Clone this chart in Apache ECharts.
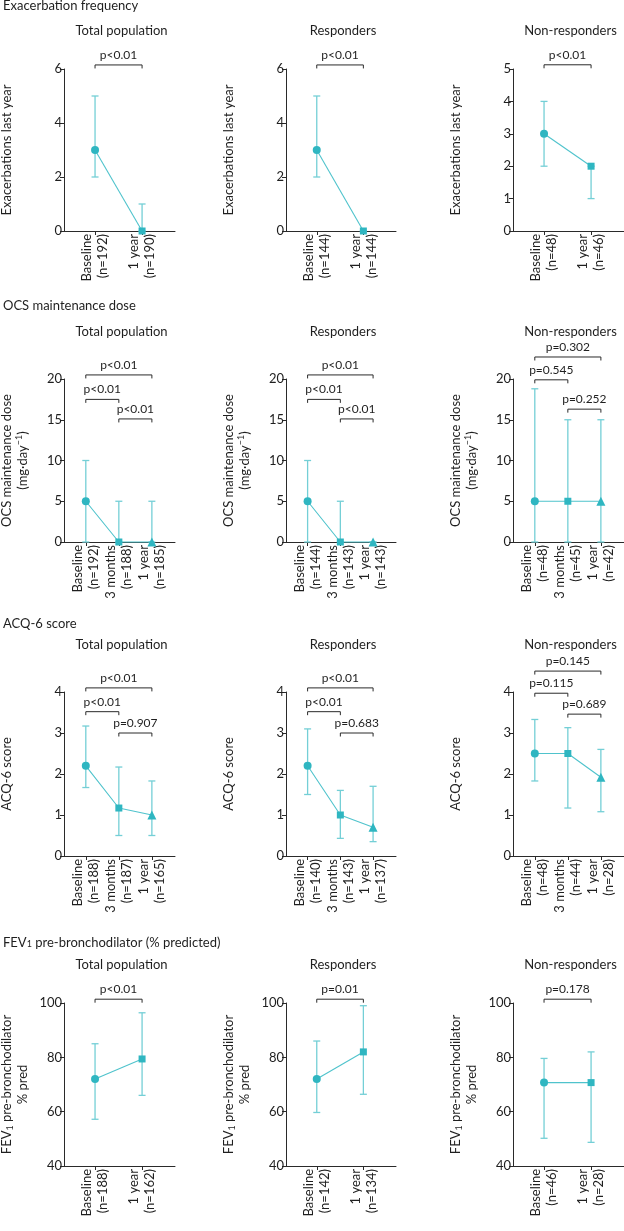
<!DOCTYPE html>
<html><head><meta charset="utf-8">
<script src="https://cdn.jsdelivr.net/npm/echarts@6/dist/echarts.min.js"></script>
<style>html,body{margin:0;padding:0;background:#fff}#c{width:624px;height:1231px}</style>
</head><body><div id="c"></div>
<script>
// ---------- titles ----------
const sectionTitles = ['Exacerbation frequency', 'OCS maintenance dose', 'ACQ-6 score', 'FEV{sub|1} pre-bronchodilator (% predicted)'];
const groupTitles = ['Total population', 'Responders', 'Non-responders'];
const yNames = ['Exacerbations last year', 'OCS maintenance dose\n(mg·day{sup|−1})', 'ACQ-6 score', 'FEV{sub|1} pre-bronchodilator\n% pred'];

// ---------- y ticks ----------
const exacTicks = [0, 2, 4, 6];
const exacTicksNR = [0, 1, 2, 3, 4, 5];
const ocsTicks = [0, 5, 10, 15, 20];
const acqTicks = [0, 1, 2, 3, 4];
const fevTicks = [40, 60, 80, 100];

// ---------- Exacerbations ----------
const exacTotalLabels = ['Baseline\n(n=192)', '1 year\n(n=190)'];
const exacTotalMedian = [3, 0];
const exacTotalLow = [2, 0];
const exacTotalHigh = [5, 1];
const exacTotalP = [[1, 2, 6.15, 'p<0.01']];

const exacRespLabels = ['Baseline\n(n=144)', '1 year\n(n=144)'];
const exacRespMedian = [3, 0];
const exacRespLow = [2, 0];
const exacRespHigh = [5, 0];
const exacRespP = [[1, 2, 6.15, 'p<0.01']];

const exacNonLabels = ['Baseline\n(n=48)', '1 year\n(n=46)'];
const exacNonMedian = [3, 2];
const exacNonLow = [2, 1];
const exacNonHigh = [4, 2];
const exacNonP = [[1, 2, 5.13, 'p<0.01']];

// ---------- OCS ----------
const ocsTotalLabels = ['Baseline\n(n=192)', '3 months\n(n=188)', '1 year\n(n=185)'];
const ocsTotalMedian = [5, 0, 0];
const ocsTotalLow = [0, 0, 0];
const ocsTotalHigh = [10, 5, 5];
const ocsTotalP = [[1, 3, 20.5, 'p<0.01'], [1, 2, 17.5, 'p<0.01'], [2, 3, 15.1, 'p<0.01']];

const ocsRespLabels = ['Baseline\n(n=144)', '3 months\n(n=143)', '1 year\n(n=143)'];
const ocsRespMedian = [5, 0, 0];
const ocsRespLow = [0, 0, 0];
const ocsRespHigh = [10, 5, 0];
const ocsRespP = [[1, 3, 20.5, 'p<0.01'], [1, 2, 17.5, 'p<0.01'], [2, 3, 15.1, 'p<0.01']];

const ocsNonLabels = ['Baseline\n(n=48)', '3 months\n(n=45)', '1 year\n(n=42)'];
const ocsNonMedian = [5, 5, 5];
const ocsNonLow = [0, 0, 0];
const ocsNonHigh = [18.8, 15, 15];
const ocsNonP = [[1, 3, 22.7, 'p=0.302'], [1, 2, 19.9, 'p=0.545'], [2, 3, 16.3, 'p=0.252']];

// ---------- ACQ-6 ----------
const acqTotalLabels = ['Baseline\n(n=188)', '3 months\n(n=187)', '1 year\n(n=165)'];
const acqTotalMedian = [2.2, 1.17, 1.0];
const acqTotalLow = [1.67, 0.5, 0.5];
const acqTotalHigh = [3.17, 2.17, 1.83];
const acqTotalP = [[1, 3, 4.1, 'p<0.01'], [1, 2, 3.52, 'p<0.01'], [2, 3, 3.0, 'p=0.907']];

const acqRespLabels = ['Baseline\n(n=140)', '3 months\n(n=143)', '1 year\n(n=137)'];
const acqRespMedian = [2.2, 1.0, 0.7];
const acqRespLow = [1.5, 0.43, 0.35];
const acqRespHigh = [3.1, 1.6, 1.7];
const acqRespP = [[1, 3, 4.1, 'p<0.01'], [1, 2, 3.52, 'p<0.01'], [2, 3, 3.0, 'p=0.683']];

const acqNonLabels = ['Baseline\n(n=48)', '3 months\n(n=44)', '1 year\n(n=28)'];
const acqNonMedian = [2.5, 2.5, 1.92];
const acqNonLow = [1.83, 1.17, 1.08];
const acqNonHigh = [3.33, 3.13, 2.6];
const acqNonP = [[1, 3, 4.51, 'p=0.145'], [1, 2, 3.97, 'p=0.115'], [2, 3, 3.46, 'p=0.689']];

// ---------- FEV1 ----------
const fevTotalLabels = ['Baseline\n(n=188)', '1 year\n(n=162)'];
const fevTotalMedian = [72, 79.4];
const fevTotalLow = [57.2, 66];
const fevTotalHigh = [85, 96.4];
const fevTotalP = [[1, 2, 101.4, 'p<0.01']];

const fevRespLabels = ['Baseline\n(n=142)', '1 year\n(n=134)'];
const fevRespMedian = [72, 82];
const fevRespLow = [59.7, 66.4];
const fevRespHigh = [86, 99];
const fevRespP = [[1, 2, 101.4, 'p=0.01']];

const fevNonLabels = ['Baseline\n(n=46)', '1 year\n(n=28)'];
const fevNonMedian = [70.7, 70.7];
const fevNonLow = [50.2, 48.7];
const fevNonHigh = [79.6, 82];
const fevNonP = [[1, 2, 101.4, 'p=0.178']];

// ---------- layout / style ----------
const FONT = 'Lato, "Noto Sans", sans-serif';
const TXT = '#1f1f1f', AX = '#2a2a2a';
const MARK = '#2fb6c1', BAR = '#74cfd6', LINE = '#4fc3cc';
const colLeft = [64, 286, 513], colWidth = [111, 110, 111];
const rowTop = [69, 379, 692, 1003], rowHeight = [162, 163, 164, 163];
const sectionY = [7, 307, 625, 944], groupY = [31, 332, 645, 965];
const nameGaps = [49, 33, 49, 33];
const rich = {
  sub: {fontSize: 9, verticalAlign: 'bottom', fontFamily: FONT, color: TXT},
  sup: {fontSize: 9, verticalAlign: 'top', fontFamily: FONT, color: TXT}
};

const panels = [
  [0, 0, exacTotalLabels, exacTotalMedian, exacTotalLow, exacTotalHigh, exacTotalP, exacTicks],
  [0, 1, exacRespLabels, exacRespMedian, exacRespLow, exacRespHigh, exacRespP, exacTicks],
  [0, 2, exacNonLabels, exacNonMedian, exacNonLow, exacNonHigh, exacNonP, exacTicksNR],
  [1, 0, ocsTotalLabels, ocsTotalMedian, ocsTotalLow, ocsTotalHigh, ocsTotalP, ocsTicks],
  [1, 1, ocsRespLabels, ocsRespMedian, ocsRespLow, ocsRespHigh, ocsRespP, ocsTicks],
  [1, 2, ocsNonLabels, ocsNonMedian, ocsNonLow, ocsNonHigh, ocsNonP, ocsTicks],
  [2, 0, acqTotalLabels, acqTotalMedian, acqTotalLow, acqTotalHigh, acqTotalP, acqTicks],
  [2, 1, acqRespLabels, acqRespMedian, acqRespLow, acqRespHigh, acqRespP, acqTicks],
  [2, 2, acqNonLabels, acqNonMedian, acqNonLow, acqNonHigh, acqNonP, acqTicks],
  [3, 0, fevTotalLabels, fevTotalMedian, fevTotalLow, fevTotalHigh, fevTotalP, fevTicks],
  [3, 1, fevRespLabels, fevRespMedian, fevRespLow, fevRespHigh, fevRespP, fevTicks],
  [3, 2, fevNonLabels, fevNonMedian, fevNonLow, fevNonHigh, fevNonP, fevTicks]
];

const grid = [], xAxis = [], yAxis = [], series = [], graphic = [];

sectionTitles.forEach((t, r) => {
  graphic.push({type: 'text', left: 3, top: sectionY[r] - 8,
    style: {text: t, font: '13px ' + FONT, fill: TXT, rich: rich}});
  groupTitles.forEach((g, c) => {
    graphic.push({type: 'text', x: colLeft[c] + colWidth[c] / 2 + 2, y: groupY[r],
      style: {text: g, font: '13px ' + FONT, fill: TXT, align: 'center', verticalAlign: 'middle'}});
  });
});

panels.forEach((p, i) => {
  const [row, col, labels, med, lo, hi, pv, ticks] = p;
  const n = labels.length;
  const xs = labels.map((_, k) => k + 1);
  const syms = n === 2 ? ['circle', 'rect'] : ['circle', 'rect', 'triangle'];
  const sizes = n === 2 ? [8, 7] : [8, 7, 9];
  grid.push({left: colLeft[col], top: rowTop[row], width: colWidth[col], height: rowHeight[row], outerBoundsMode: 'none'});
  xAxis.push({
    type: 'value', gridIndex: i, min: 1 - 0.66, max: n + 0.7,
    axisLine: {show: true, onZero: false, lineStyle: {color: AX, width: 1}},
    axisTick: {show: true, length: 4, customValues: xs, lineStyle: {color: AX}},
    axisLabel: {show: true, customValues: xs, rotate: 90, margin: 3,
      formatter: v => labels[Math.round(v) - 1],
      color: TXT, fontFamily: FONT, fontSize: 13, lineHeight: 16},
    splitLine: {show: false}
  });
  yAxis.push({
    type: 'value', gridIndex: i, min: ticks[0], max: ticks[ticks.length - 1], interval: ticks[1] - ticks[0],
    axisLine: {show: true, onZero: false, lineStyle: {color: AX, width: 1}},
    axisTick: {show: true, length: 4, lineStyle: {color: AX}},
    axisLabel: {margin: 2, color: TXT, fontFamily: FONT, fontSize: 13},
    splitLine: {show: false},
    name: yNames[row], nameLocation: 'middle', nameGap: nameGaps[row],
    nameTextStyle: {color: TXT, fontFamily: FONT, fontSize: 13, lineHeight: 16, rich: rich}
  });
  // error bars
  series.push({
    type: 'custom', xAxisIndex: i, yAxisIndex: i, clip: false, z: 2, silent: true,
    data: xs.map((x, k) => [x, lo[k], hi[k]]),
    renderItem: (params, api) => {
      const x = api.value(0);
      const a = api.coord([x, api.value(1)]), b = api.coord([x, api.value(2)]);
      const w = 3.5, st = {stroke: BAR, lineWidth: 1.3};
      return {type: 'group', children: [
        {type: 'line', shape: {x1: a[0], y1: a[1], x2: b[0], y2: b[1]}, style: st},
        {type: 'line', shape: {x1: a[0] - w, y1: a[1], x2: a[0] + w, y2: a[1]}, style: st},
        {type: 'line', shape: {x1: b[0] - w, y1: b[1], x2: b[0] + w, y2: b[1]}, style: st}
      ]};
    }
  });
  // medians
  series.push({
    type: 'line', xAxisIndex: i, yAxisIndex: i, clip: false, z: 3, silent: true,
    data: xs.map((x, k) => [x, med[k]]),
    symbol: (v, prm) => syms[prm.dataIndex],
    symbolSize: (v, prm) => sizes[prm.dataIndex],
    showAllSymbol: true,
    itemStyle: {color: MARK},
    lineStyle: {color: LINE, width: 1.1}
  });
  // significance brackets
  series.push({
    type: 'custom', xAxisIndex: i, yAxisIndex: i, clip: false, z: 4, silent: true,
    encode: {x: [0, 2], y: 1},
    data: pv.map(b => [b[0], b[2], b[1]]),
    renderItem: (params, api) => {
      const lvl = api.value(1);
      const a = api.coord([api.value(0), lvl]), b = api.coord([api.value(2), lvl]);
      const t = 3.5;
      return {type: 'group', children: [
        {type: 'polyline', shape: {points: [[a[0], a[1] + t], [a[0], a[1]], [b[0], b[1]], [b[0], b[1] + t]]},
          style: {stroke: AX, lineWidth: 1, fill: null}},
        {type: 'text', x: (a[0] + b[0]) / 2, y: a[1] - 10,
          style: {text: pv[params.dataIndex][3], font: '12px ' + FONT, fill: TXT, align: 'center', verticalAlign: 'middle'}}
      ]};
    }
  });
});

const chart = echarts.init(document.getElementById('c'));
chart.setOption({animation: false, backgroundColor: '#fff', textStyle: {fontFamily: FONT},
  grid, xAxis, yAxis, series, graphic});
</script></body></html>
